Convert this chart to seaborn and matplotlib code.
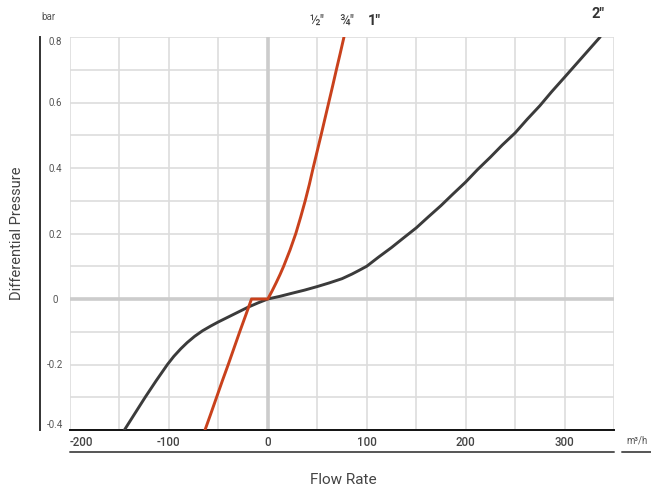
import numpy as np
import pandas as pd
import matplotlib.pyplot as plt
import seaborn as sns
from matplotlib.lines import Line2D

sns.set_theme(style="whitegrid")
plt.rcParams['font.family'] = ['Roboto', 'DejaVu Sans']

# curve: 1/2", 3/4", 1" (shared red curve)
small_flow = [-63.5, -57.6, -51.8, -46, -40, -34.2, -28.4, -22.4, -16.5, 0, 4.4, 8.5,
              12.4, 16, 22.5, 28.3, 33.2, 37.8, 42, 45.8, 49.8, 53.8, 57.7, 61.6, 65.5,
              69.3, 73.2, 77]
small_dp = [-0.4, -0.35, -0.3, -0.25, -0.2, -0.15, -0.1, -0.05, 0.0, 0.0, 0.025, 0.05,
            0.075, 0.1, 0.15, 0.2, 0.25, 0.3, 0.35, 0.4, 0.45, 0.5, 0.55, 0.6, 0.65, 0.7,
            0.75, 0.8]

# 2" curve
big_flow = [-145, -134.5, -124, -113, -101.5, -95, -88, -81.5, -74, -66, -58, -50, -40,
            -30, -20, -10, 0, 12, 25, 37, 50, 62, 75, 85, 92, 100, 112, 125, 137, 150,
            162, 175, 187, 200, 212, 225, 237, 250, 262, 275, 287, 300, 312, 324, 336]
big_dp = [-0.4, -0.35, -0.3, -0.25, -0.2, -0.175, -0.152, -0.133, -0.114, -0.097,
          -0.083, -0.07, -0.055, -0.04, -0.025, -0.012, 0.0, 0.008, 0.018, 0.027, 0.038,
          0.049, 0.062, 0.076, 0.087, 0.1, 0.128, 0.157, 0.186, 0.217, 0.25, 0.285,
          0.32, 0.357, 0.395, 0.433, 0.47, 0.507, 0.548, 0.59, 0.633, 0.677, 0.718,
          0.759, 0.8]

x_ticks = [-200, -100, 0, 100, 200, 300]
x_labels = ['-200', '-100', '0', '100', '200', '300']
y_ticks = [-0.4, -0.2, 0, 0.2, 0.4, 0.6, 0.8]
y_labels = ['-0.4', '-0.2', '0', '0.2', '0.4', '0.6', '0.8']

red = '#c9411c'
dark = '#3b3b3b'
txt = '#555555'

fig = plt.figure(figsize=(6.51, 4.91), dpi=100)
ax = fig.add_axes([70 / 651, 61 / 491, 544 / 651, 393 / 491])

# grid
ax.set_xlim(-200, 350)
ax.set_ylim(-0.4, 0.8)
ax.set_xticks(x_ticks)
ax.set_xticks(np.arange(-200, 351, 50), minor=True)
ax.set_yticks(y_ticks)
ax.set_yticks(np.arange(-0.4, 0.81, 0.1), minor=True)
ax.grid(which='both', color='#dddddd', linewidth=1.2)
ax.axhline(0, color='#cccccc', linewidth=2.6, zorder=1.5)
ax.axvline(0, color='#cccccc', linewidth=2.6, zorder=1.5)

small = pd.DataFrame({'flow': small_flow, 'dp': small_dp})
big = pd.DataFrame({'flow': big_flow, 'dp': big_dp})
sns.lineplot(data=big, x='flow', y='dp', sort=False, estimator=None, color=dark,
             linewidth=2.1, ax=ax, zorder=3, solid_joinstyle='round')
sns.lineplot(data=small, x='flow', y='dp', sort=False, estimator=None, color=red,
             linewidth=2.1, ax=ax, zorder=4, solid_joinstyle='round')

# spines
for s in ['top', 'right']:
    ax.spines[s].set_visible(False)
ax.spines['left'].set_position(('outward', 21.6))
ax.spines['left'].set_color('#333333')
ax.spines['left'].set_linewidth(1.4)
ax.spines['bottom'].set_color('#111111')
ax.spines['bottom'].set_linewidth(1.4)

ax.tick_params(axis='both', which='both', length=0)
ax.tick_params(axis='y', pad=-10.8)
ax.tick_params(axis='x', pad=4)
ax.set_xticklabels(x_labels, fontsize=8.3, color='#444444', fontweight='medium')
ax.set_yticklabels(y_labels, fontsize=7, color=txt)
for lab in ax.get_yticklabels():
    lab.set_ha('center')
ylabs = ax.get_yticklabels()
ylabs[0].set_va('bottom')
ylabs[-1].set_va('top')
ax.get_xticklabels()[0].set_ha('left')

ax.set_xlabel('')
ax.set_ylabel('')

# axis titles and units
fig.text(343 / 651, 1 - 480 / 491, 'Flow Rate', ha='center', va='center',
         fontsize=11, color='#444444')
fig.text(17 / 651, 1 - 233 / 491, 'Differential Pressure', ha='center', va='center',
         rotation=90, fontsize=10.5, color='#444444')
fig.text(48 / 651, 1 - 17 / 491, 'bar', ha='center', va='center', fontsize=7, color=txt)
fig.text(637 / 651, 1 - 441 / 491, 'm\u00b3/h', ha='center', va='center', fontsize=7,
         color=txt)

# underline under the x tick labels
fig.add_artist(Line2D([70 / 651, 614 / 651], [1 - 452 / 491] * 2, color='#555555',
                      linewidth=1.4))
fig.add_artist(Line2D([622 / 651, 651 / 651], [1 - 452 / 491] * 2, color='#555555',
                      linewidth=1.4))

# size labels
fig.text(317 / 651, 1 - 21 / 491, '\u00bd"', ha='center', va='center', fontsize=10,
         color='#444444')
fig.text(347 / 651, 1 - 21 / 491, '\u00be"', ha='center', va='center', fontsize=10,
         color='#444444')
fig.text(374 / 651, 1 - 21 / 491, '1"', ha='center', va='center', fontsize=10.5,
         color='#333333', fontweight='bold')
fig.text(598 / 651, 1 - 14 / 491, '2"', ha='center', va='center', fontsize=10.5,
         color='#333333', fontweight='bold')

fig.savefig('out.png', dpi=100)
